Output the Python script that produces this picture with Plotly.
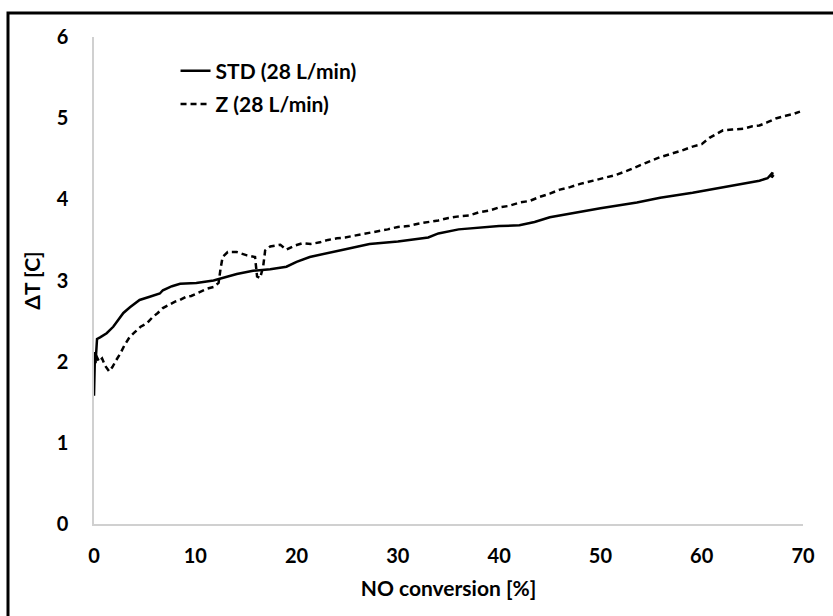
import plotly.graph_objects as go

# STD (28 L/min) - solid
std_x = [0.0, 0.03, 0.06, 0.1, 0.15, 0.2, 0.3, 0.6, 1.25, 1.9, 2.4, 2.9, 3.55, 4.5, 5.5, 6.5, 6.8, 7.7, 8.5,
         10.1, 11.8, 12.7, 14.1, 15.7, 17.4, 19.0, 20.0, 21.3, 22.3, 24.6, 27.2, 30.0, 33.0, 34.0, 36.0,
         40.0, 42.0, 43.5, 45.0, 48.0, 50.0, 53.6, 55.9, 59.1, 62.5, 65.7, 66.5, 66.8, 67.0, 66.9, 67.1]
std_y = [1.58, 1.85, 2.05, 2.12, 1.98, 2.1, 2.28, 2.3, 2.35, 2.43, 2.52, 2.6, 2.67, 2.76, 2.8, 2.84, 2.88, 2.93, 2.96,
         2.97, 3.0, 3.03, 3.08, 3.12, 3.14, 3.17, 3.23, 3.29, 3.32, 3.38, 3.45, 3.48, 3.53, 3.58, 3.63,
         3.67, 3.68, 3.72, 3.78, 3.85, 3.89, 3.96, 4.02, 4.08, 4.16, 4.23, 4.26, 4.3, 4.33, 4.27, 4.3]

# Z (28 L/min) - dashed
z_x = [0.2, 0.5, 0.8, 1.1, 1.5, 1.8, 2.2, 2.6, 3.0, 3.5, 4.0, 4.6, 5.2, 5.8, 6.3, 6.8, 7.4, 8.0, 8.5, 9.1, 9.6,
       10.1, 10.7, 11.2, 11.8, 12.3, 12.5, 12.7, 13.2, 14.1, 15.1, 15.9, 16.1, 16.4, 16.7, 16.9, 17.4,
       18.4, 19.0, 19.8, 20.6, 21.4, 22.3, 23.1, 24.0, 24.8, 25.6, 26.9, 28.0, 29.0, 30.0, 31.0, 32.0,
       33.0, 34.0, 35.0, 36.0, 37.0, 38.0, 39.0, 40.0, 41.0, 42.0, 43.0, 44.0, 45.0, 46.0, 47.0, 48.0,
       49.3, 50.5, 51.5, 52.6, 53.5, 54.5, 55.9, 57.0, 58.0, 59.1, 60.0, 60.8, 61.5, 62.1, 63.0, 64.1,
       65.0, 65.7, 66.5, 67.4, 68.3, 69.0, 69.7]
z_y = [2.08, 2.0, 2.04, 1.95, 1.88, 1.93, 2.02, 2.1, 2.2, 2.3, 2.36, 2.43, 2.47, 2.55, 2.6, 2.66, 2.7, 2.74, 2.76,
       2.8, 2.81, 2.84, 2.88, 2.9, 2.92, 2.97, 3.15, 3.29, 3.35, 3.35, 3.31, 3.29, 3.05, 3.03, 3.17, 3.37, 3.42,
       3.44, 3.38, 3.43, 3.46, 3.45, 3.47, 3.5, 3.52, 3.53, 3.55, 3.58, 3.6, 3.63, 3.66, 3.67, 3.7,
       3.72, 3.74, 3.77, 3.79, 3.8, 3.84, 3.86, 3.9, 3.92, 3.96, 3.98, 4.03, 4.07, 4.12, 4.15, 4.19,
       4.23, 4.27, 4.3, 4.35, 4.4, 4.45, 4.52, 4.56, 4.6, 4.65, 4.68, 4.76, 4.81, 4.85, 4.86, 4.87,
       4.9, 4.91, 4.95, 5.0, 5.03, 5.05, 5.08]

x_ticks = [0, 10, 20, 30, 40, 50, 60, 70]
y_ticks = [0, 1, 2, 3, 4, 5, 6]

FONT = "Lato"

fig = go.Figure()
fig.add_trace(go.Scatter(x=std_x, y=std_y, mode="lines", name="<b>STD (28 L/min)</b>", legendgroup="a",
                         line=dict(color="black", width=2.5)))
fig.add_trace(go.Scatter(x=z_x, y=z_y, mode="lines", name="<b>Z (28 L/min)</b>", legendgroup="b",
                         line=dict(color="black", width=2.5, dash="6px,4px")))

fig.update_layout(
    width=833, height=616,
    margin=dict(l=94, r=30, t=37, b=92),
    paper_bgcolor="white", plot_bgcolor="white",
    font=dict(family=FONT, size=20, color="black"),
    showlegend=True,
    legend=dict(x=0.115, y=0.972, xanchor="left", yanchor="top",
                bgcolor="rgba(0,0,0,0)", font=dict(family=FONT, size=21, color="black"),
                tracegroupgap=3),
    xaxis=dict(range=[0, 70], tickvals=x_ticks, showgrid=False, zeroline=False,
               showline=True, linecolor="#d0d0d0", linewidth=1.5, ticks="",
               tickfont=dict(family=FONT, size=20, weight="bold"), ticklabelstandoff=13,
               title=dict(text="<b>NO conversion [%]</b>", font=dict(family=FONT, size=21), standoff=16)),
    yaxis=dict(range=[0, 6], tickvals=y_ticks, showgrid=False, zeroline=False,
               showline=True, linecolor="#d0d0d0", linewidth=1.5, ticks="",
               tickfont=dict(family=FONT, size=20, weight="bold"), ticklabelstandoff=20,
               title=dict(text="<b>ΔT [C]</b>", font=dict(family=FONT, size=21), standoff=10)),
    shapes=[dict(type="rect", xref="paper", yref="paper",
                 x0=(8 - 94) / 709, x1=(900 - 94) / 709,
                 y0=(524 - 660) / 487, y1=(524 - 13) / 487,
                 line=dict(color="black", width=3), fillcolor="rgba(0,0,0,0)", layer="above")],
)

fig.write_html("out.html")
